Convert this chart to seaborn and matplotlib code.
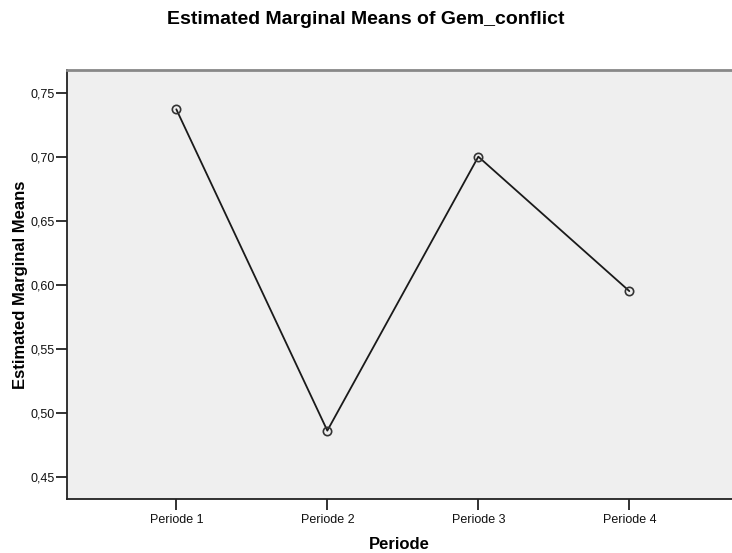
import matplotlib
matplotlib.use("Agg")
import matplotlib.pyplot as plt  # noqa: E402
import matplotlib.ticker as mticker  # noqa: E402
import pandas as pd  # noqa: E402
import seaborn as sns  # noqa: E402

# data
PERIODS = ["Periode 1", "Periode 2", "Periode 3", "Periode 4"]
MEANS = [0.737, 0.486, 0.700, 0.595]
Y_TICKS = [0.45, 0.50, 0.55, 0.60, 0.65, 0.70, 0.75]

sns.set_style("white")
plt.rcParams["font.family"] = ["Liberation Sans", "DejaVu Sans"]
plt.rcParams["text.color"] = "black"
plt.rcParams["axes.labelcolor"] = "black"

df = pd.DataFrame({"Periode": PERIODS, "mean": MEANS})

fig = plt.figure(figsize=(7.32, 5.53), dpi=100)
ax = fig.add_axes([67 / 732, 1 - 499 / 553, 665 / 732, 429 / 553])
ax.set_facecolor("#efefef")

sns.lineplot(data=df, x="Periode", y="mean", sort=False, ax=ax,
             color="#1a1a1a", linewidth=1.3, marker="o", markersize=6,
             markerfacecolor="none", markeredgecolor="#333333", markeredgewidth=1.2)

ax.set_xlim(-0.724, 3.68)
ax.set_ylim(0.4326, 0.7677)
ax.set_yticks(Y_TICKS)
ax.yaxis.set_major_formatter(mticker.FuncFormatter(lambda v, _: f"{v:.2f}".replace(".", ",")))

ax.tick_params(axis="both", direction="out", length=8, width=1.3, color="#222222",
               labelsize=9, labelcolor="#111111", left=True, bottom=True)
ax.tick_params(axis="y", pad=1)
ax.tick_params(axis="x", pad=3)

for side in ["left", "bottom"]:
    ax.spines[side].set_color("#222222")
    ax.spines[side].set_linewidth(1.3)
ax.spines["top"].set_color("#888888")
ax.spines["top"].set_linewidth(2)
ax.spines["right"].set_visible(False)

ax.set_xlabel("Periode", fontsize=12, fontweight="bold")
ax.set_ylabel("Estimated Marginal Means", fontsize=12, fontweight="bold")
ax.xaxis.set_label_coords(0.5, -0.0886)
ax.yaxis.set_label_coords(-0.0586, 0.5)

fig.suptitle("Estimated Marginal Means of Gem_conflict", x=0.5, y=1 - 20 / 553,
             va="center", fontsize=14, fontweight="bold")

fig.savefig("out.png", dpi=100)
